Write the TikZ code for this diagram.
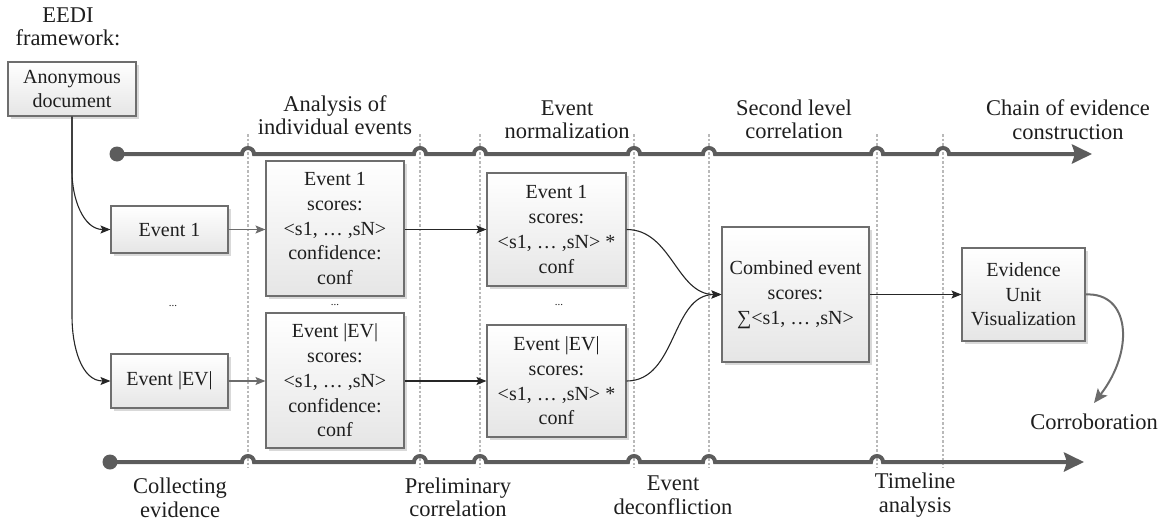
\documentclass[tikz,border=0pt]{standalone}
\usepackage{fontspec}
\setmainfont{Liberation Serif}
\usetikzlibrary{arrows.meta,shadows,calc}
\definecolor{boxgray}{HTML}{6E6E6E}
\definecolor{tlgray}{HTML}{5C5C5C}
\definecolor{txt}{HTML}{1E1E1E}
\newcommand{\boxfont}{\fontsize{20}{24.7}\selectfont}
\newcommand{\lblfont}{\fontsize{22.5}{23.5}\selectfont}
\tikzset{
  box/.style={draw=boxgray, line width=1.1pt, top color=white, bottom color=gray!20,
    drop shadow={shadow xshift=2.5pt, shadow yshift=-2.5pt, fill=black, opacity=0.15},
    align=center, inner sep=0pt, font=\boxfont, text=txt},
  lbl/.style={align=center, font=\lblfont, text=txt, inner sep=0pt},
  dots/.style={font=\fontsize{11}{11}\selectfont, text=txt, inner sep=0pt},
  vline/.style={draw=gray!55, line width=1.1pt, dash pattern=on 2.5pt off 2pt},
  tline/.style={draw=tlgray, line width=4pt},
  blk/.style={draw=black!85, line width=1.1pt, -{Stealth[length=10pt,width=8pt,inset=2pt]}},
  gry/.style={draw=gray!85!black, line width=1.1pt, -{Stealth[length=10pt,width=8pt,inset=2pt]}},
  corr/.style={draw=gray!85!black, line width=2pt, -{Stealth[length=14pt,width=12pt,inset=3pt]}}
}
\begin{document}
\begin{tikzpicture}[x=1pt,y=-1pt]
\useasboundingbox (0,0) rectangle (1171,525);

% vertical dotted separators
\foreach \xx in {248,420,480,634,709,877,943}
  \draw[vline] (\xx,134) -- (\xx,468);

% timelines
\draw[tline, -{Stealth[length=20pt,width=19pt,inset=3pt]}] (117,154)
  -- (242,154) arc[start angle=180,end angle=360,radius=6]
  -- (414,154) arc[start angle=180,end angle=360,radius=6]
  -- (474,154) arc[start angle=180,end angle=360,radius=6]
  -- (628,154) arc[start angle=180,end angle=360,radius=6]
  -- (703,154) arc[start angle=180,end angle=360,radius=6]
  -- (871,154) arc[start angle=180,end angle=360,radius=6]
  -- (937,154) arc[start angle=180,end angle=360,radius=6]
  -- (1092,154);
\fill[tlgray] (117,154) circle[radius=7.5];

\draw[tline, -{Stealth[length=20pt,width=19pt,inset=3pt]}] (110,462)
  -- (242,462) arc[start angle=180,end angle=360,radius=6]
  -- (414,462) arc[start angle=180,end angle=360,radius=6]
  -- (474,462) arc[start angle=180,end angle=360,radius=6]
  -- (628,462) arc[start angle=180,end angle=360,radius=6]
  -- (703,462) arc[start angle=180,end angle=360,radius=6]
  -- (871,462) arc[start angle=180,end angle=360,radius=6]
  -- (1084,462);
\fill[tlgray] (110,462) circle[radius=7.5];

% labels
\node[lbl] (eedi) at (68,27) {EEDI\\framework:};
\node[lbl] (lanal) at (335,115) {Analysis of\\individual events};
\node[lbl] (lnorm) at (567,119.5) {Event\\normalization};
\node[lbl] (lsec) at (794,119.5) {Second level\\correlation};
\node[lbl] (lchain) at (1068,119.5) {Chain of evidence\\construction};
\node[lbl] (lcoll) at (180,498) {Collecting\\evidence};
\node[lbl] (lprel) at (458,497.5) {Preliminary\\correlation};
\node[lbl] (ldec) at (673,495) {Event\\deconfliction};
\node[lbl] (ltime) at (915,495) {Timeline\\analysis};
\node[lbl] (corr) at (1094,422) {Corroboration};

% boxes
\node[box, minimum width=128pt, minimum height=54pt] (adoc) at (72,89) {Anonymous\\document};
\node[box, minimum width=117pt, minimum height=47pt] (ev1) at (169.5,229.5) {Event 1};
\node[box, minimum width=117pt, minimum height=54pt] (evn) at (169.5,381) {Event |EV|};
\node[box, minimum width=138pt, minimum height=135pt] (an1) at (335,228.5) {Event 1\\scores:\\<s1, … ,sN>\\confidence:\\conf};
\node[box, minimum width=138pt, minimum height=135pt] (ann) at (335,380.5) {Event |EV|\\scores:\\<s1, … ,sN>\\confidence:\\conf};
\node[box, minimum width=139pt, minimum height=113pt] (no1) at (556.5,229.5) {Event 1\\scores:\\<s1, … ,sN> *\\conf};
\node[box, minimum width=139pt, minimum height=112pt] (non) at (556.5,381) {Event |EV|\\scores:\\<s1, … ,sN> *\\conf};
\node[box, minimum width=147pt, minimum height=135pt] (comb) at (795.5,294.5) {Combined event\\scores:\\∑<s1, … ,sN>};
\node[box, minimum width=123pt, minimum height=93pt] (evu) at (1023.5,294.5) {Evidence\\Unit\\Visualization};

% ellipses
\node[dots] (d1) at (173,306) {...};
\node[dots] (d2) at (335,305) {...};
\node[dots] (d3) at (559,305) {...};

% connectors
\draw[blk] (adoc.south) -- ++(0,55) to[out=-90,in=180] (ev1.west);
\draw[blk] (adoc.south) -- ++(0,200) to[out=-90,in=180] (evn.west);
\draw[gry] (ev1.east) -- (ev1.east -| an1.west);
\draw[gry] (evn.east) -- (evn.east -| ann.west);
\draw[blk] (an1.east |- ev1.east) -- (an1.east |- ev1.east -| no1.west);
\draw[blk] (ann.east |- evn.east) -- (ann.east |- evn.east -| non.west);
\draw[blk] (no1.east) to[out=0,in=180] (comb.west);
\draw[blk] (non.east) to[out=0,in=180] (comb.west);
\draw[blk] (comb.east) -- (evu.west);
\coordinate (ctip) at (1094,403);
\draw[corr] (evu.east) .. controls (1130,292) and (1135,350) .. (ctip);
\end{tikzpicture}
\end{document}
